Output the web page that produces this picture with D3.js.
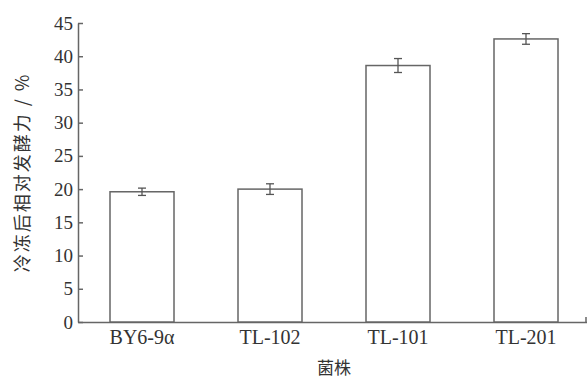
<!DOCTYPE html>
<html>
<head>
<meta charset="utf-8">
<script src="https://cdn.jsdelivr.net/npm/d3@7"></script>
<style>
  body { margin: 0; background: #fff; }
  text { font-family: "Liberation Serif", "Times New Roman", serif; fill: #333; }
</style>
</head>
<body>
<div id="chart"></div>
<script>
// data
const strains = ["BY6-9α", "TL-102", "TL-101", "TL-201"];
const activity = [19.6, 20.0, 38.6, 42.6];
const errors = [0.55, 0.8, 1.05, 0.8];
const yTicks = [0, 5, 10, 15, 20, 25, 30, 35, 40, 45];

const width = 587, height = 380;
const margin = {top: 23, right: -3, bottom: 58, left: 78};

const svg = d3.select("#chart")
  .append("svg")
  .attr("width", width)
  .attr("height", height);

const x = d3.scaleBand()
  .domain(strains)
  .range([margin.left, width - margin.right])
  .paddingInner(0.5)
  .paddingOuter(0.25);

const y = d3.scaleLinear()
  .domain([0, 45])
  .range([height - margin.bottom, margin.top]);

const axisColor = "#666";

// y axis with inward ticks
const yAxis = svg.append("g")
  .attr("transform", `translate(${margin.left},0)`)
  .call(d3.axisLeft(y).tickValues(yTicks).tickSize(-5).tickPadding(5).tickSizeOuter(0));
yAxis.select(".domain").attr("stroke", axisColor).attr("stroke-width", 1.5);
yAxis.selectAll(".tick line").attr("stroke", axisColor).attr("stroke-width", 1.5);
yAxis.selectAll(".tick text")
  .style("font-family", "'Liberation Serif', serif")
  .style("font-size", "19px")
  .attr("fill", "#333");

// x axis
const xAxis = svg.append("g")
  .attr("transform", `translate(0,${y(0)})`)
  .call(d3.axisBottom(x).tickSize(0).tickPadding(8).tickSizeOuter(0));
xAxis.select(".domain").attr("stroke", axisColor).attr("stroke-width", 1.5);
xAxis.selectAll(".tick text")
  .style("font-family", "'Liberation Serif', serif")
  .style("font-size", "20px")
  .attr("fill", "#333");

// small end tick on the right of the x axis
svg.append("line")
  .attr("x1", width - 1).attr("x2", width - 1)
  .attr("y1", y(0)).attr("y2", y(0) - 5)
  .attr("stroke", axisColor).attr("stroke-width", 1.5);

// bars
svg.append("g").selectAll("rect")
  .data(strains)
  .join("rect")
  .attr("x", d => x(d))
  .attr("y", (d, i) => y(activity[i]))
  .attr("width", x.bandwidth())
  .attr("height", (d, i) => y(0) - y(activity[i]))
  .attr("fill", "#fff")
  .attr("stroke", axisColor)
  .attr("stroke-width", 1.5);

// error bars
const cap = 4;
const eb = svg.append("g").attr("stroke", "#555").attr("stroke-width", 1.3);
strains.forEach((s, i) => {
  const cx = x(s) + x.bandwidth() / 2;
  const hi = y(activity[i] + errors[i]), lo = y(activity[i] - errors[i]);
  eb.append("line").attr("x1", cx).attr("x2", cx).attr("y1", hi).attr("y2", lo);
  eb.append("line").attr("x1", cx - cap).attr("x2", cx + cap).attr("y1", hi).attr("y2", hi);
  eb.append("line").attr("x1", cx - cap).attr("x2", cx + cap).attr("y1", lo).attr("y2", lo);
});

// axis titles
svg.append("text")
  .attr("transform", `translate(29,${(y(0) + y(45)) / 2}) rotate(-90)`)
  .attr("text-anchor", "middle")
  .style("font-size", "18px")
  .style("letter-spacing", "2px")
  .style("font-family", "'Noto Sans CJK SC', serif")
  .text("冷冻后相对发酵力 / %");

svg.append("text")
  .attr("x", 334)
  .attr("y", 374)
  .attr("text-anchor", "middle")
  .style("font-size", "17px")
  .style("font-family", "'Noto Sans CJK SC', serif")
  .text("菌株");
</script>
</body>
</html>
